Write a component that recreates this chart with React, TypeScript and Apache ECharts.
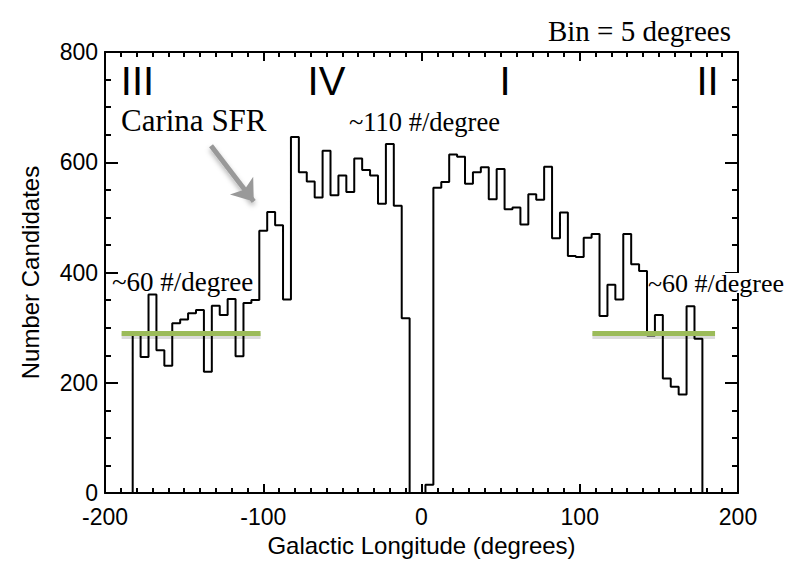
import React, { useEffect, useRef } from 'react';
import * as echarts from 'echarts';

// ---- data ----
const binWidth = 5;
const longitudes = [
  -180, -175, -170, -165, -160, -155, -150, -145, -140, -135, -130, -125,
  -120, -115, -110, -105, -100, -95, -90, -85, -80, -75, -70, -65,
  -60, -55, -50, -45, -40, -35, -30, -25, -20, -15, -10, -5,
  0, 5, 10, 15, 20, 25, 30, 35, 40, 45, 50, 55,
  60, 65, 70, 75, 80, 85, 90, 95, 100, 105, 110, 115,
  120, 125, 130, 135, 140, 145, 150, 155, 160, 165, 170, 175,
];
const counts = [
  287, 247, 360, 259, 231, 308, 315, 326, 332, 220, 340, 323,
  352, 248, 345, 350, 476, 510, 486, 351, 646, 582, 565, 536,
  621, 540, 576, 546, 607, 586, 576, 525, 633, 521, 317, 0,
  0, 15, 554, 564, 614, 610, 561, 582, 591, 533, 588, 515,
  518, 487, 542, 532, 592, 462, 509, 430, 428, 463, 470, 321,
  378, 351, 470, 415, 403, 286, 323, 208, 193, 179, 339, 280,
];
const xTicks = { min: -200, max: 200, interval: 100 };
const yTicks = { min: 0, max: 800, interval: 200 };

// ~60 #/degree plateau guides (x range in degrees, level in counts)
const plateauLevel = 290;
const plateauShadowLevel = 285;
const plateauLeft = [-189.5, -101.7];
const plateauRight = [108, 185.5];

// Carina arrow (data coordinates)
const arrowTail = [-133, 630];
const arrowEnd = [-106, 529];

const quadrants = ['III', 'IV', 'I', 'II'];
const titleText = 'Bin = 5 degrees';
const xName = 'Galactic Longitude (degrees)';
const yName = 'Number Candidates';

const SERIF = "'Liberation Serif', 'Times New Roman', Times, serif";
const SANS = "'Liberation Sans', Arial, Helvetica, sans-serif";

function buildHistogram(): number[][] {
  const pts: number[][] = [];
  longitudes.forEach((c, i) => {
    const l = c - binWidth / 2;
    const r = c + binWidth / 2;
    if (i === 0) pts.push([l, 0]);
    pts.push([l, counts[i]], [r, counts[i]]);
  });
  const last = longitudes[longitudes.length - 1] + binWidth / 2;
  pts.push([last, 0]);
  return pts;
}

function axisCommon(isX: boolean, showLabel: boolean, position: string) {
  const t = isX ? xTicks : yTicks;
  return {
    type: 'value',
    position,
    min: t.min,
    max: t.max,
    interval: t.interval,
    axisLine: { show: true, onZero: false, lineStyle: { color: '#000', width: 2 } },
    axisTick: { show: true, inside: true, length: isX ? 9 : 13, lineStyle: { color: '#000', width: 2 } },
    minorTick: { show: true, splitNumber: isX ? 10 : 4, length: isX ? 5 : 6, lineStyle: { color: '#000', width: 2 } },
    splitLine: { show: false },
    minorSplitLine: { show: false },
    axisLabel: {
      show: showLabel,
      color: '#000',
      fontSize: 23,
      fontFamily: SANS,
      margin: isX ? 12 : 7,
    },
  };
}

const textStyle = (extra: any) => ({ fill: '#000', ...extra });

const greenStyle = { color: '#9bbb59', width: 5, type: 'solid', opacity: 1 };
const greenShadowStyle = { color: 'rgba(0,0,0,0.14)', width: 6, type: 'solid', opacity: 1 };
const arrowStyle = {
  color: '#999999',
  width: 5,
  type: 'solid',
  opacity: 1,
  shadowColor: 'rgba(0,0,0,0.3)',
  shadowBlur: 5,
  shadowOffsetY: 3,
};

export default function App() {
  const ref = useRef<HTMLDivElement>(null);
  useEffect(() => {
    if (!ref.current) return;
    const chart = echarts.init(ref.current, undefined, { renderer: 'svg' });
    const romanX = [137.5, 326.5, 505, 707.5];
    const seg = (range: number[], level: number, style: any) => [
      { coord: [range[0], level], lineStyle: style, symbol: 'none' },
      { coord: [range[1], level], symbol: 'none' },
    ];
    const option: any = {
      animation: false,
      backgroundColor: '#fff',
      grid: { left: 105, right: 63, top: 52, bottom: 62, containLabel: false },
      xAxis: [
        {
          ...axisCommon(true, true, 'bottom'),
          name: xName,
          nameLocation: 'middle',
          nameGap: 39,
          nameTextStyle: { color: '#000', fontSize: 24, fontFamily: SANS },
        },
        { ...axisCommon(true, false, 'top') },
      ],
      yAxis: [
        {
          ...axisCommon(false, true, 'left'),
          name: yName,
          nameLocation: 'middle',
          nameGap: 63,
          nameTextStyle: { color: '#000', fontSize: 24, fontFamily: SANS },
        },
        { ...axisCommon(false, false, 'right') },
      ],
      series: [
        {
          type: 'line',
          data: buildHistogram(),
          symbol: 'none',
          silent: true,
          lineStyle: { color: '#000', width: 2 },
          z: 2,
          markLine: {
            silent: true,
            animation: false,
            symbol: ['none', 'none'],
            label: { show: false },
            emphasis: { disabled: true },
            lineStyle: greenStyle,
            data: [
              seg(plateauLeft, plateauShadowLevel, greenShadowStyle),
              seg(plateauRight, plateauShadowLevel, greenShadowStyle),
              seg(plateauLeft, plateauLevel, greenStyle),
              seg(plateauRight, plateauLevel, greenStyle),
              [
                { coord: arrowTail, lineStyle: arrowStyle, itemStyle: { color: '#999999' }, symbol: 'none' },
                { coord: arrowEnd, symbol: 'arrow', symbolSize: [22, 20], itemStyle: { color: '#999999' } },
              ],
            ],
          },
        },
      ],
      graphic: [
        {
          type: 'text', x: 731, y: 30.5, z: 100,
          style: textStyle({ text: titleText, fontSize: 29, fontFamily: SERIF, textAlign: 'right', align: 'right', textVerticalAlign: 'middle', verticalAlign: 'middle' }),
        },
        ...quadrants.map((q, i) => ({
          type: 'text', x: romanX[i], y: 81, z: 100,
          style: textStyle({ text: q, fontSize: 40, fontFamily: SANS, textAlign: 'center', align: 'center', textVerticalAlign: 'middle', verticalAlign: 'middle' }),
        })),
        {
          type: 'text', x: 121, y: 120.5, z: 100,
          style: textStyle({ text: 'Carina SFR', fontSize: 31, fontFamily: SERIF, textAlign: 'left', align: 'left', textVerticalAlign: 'middle', verticalAlign: 'middle' }),
        },
        {
          type: 'text', x: 349, y: 121.5, z: 100,
          style: textStyle({ text: '~110 #/degree', fontSize: 26.5, fontFamily: SERIF, textAlign: 'left', align: 'left', textVerticalAlign: 'middle', verticalAlign: 'middle' }),
        },
        {
          type: 'text', x: 112, y: 281.5, z: 100,
          style: textStyle({ text: '~60 #/degree', fontSize: 27, fontFamily: SERIF, textAlign: 'left', align: 'left', textVerticalAlign: 'middle', verticalAlign: 'middle' }),
        },
        {
          type: 'text', x: 648, y: 283, z: 100,
          style: textStyle({ text: '~60 #/degree', fontSize: 26, fontFamily: SERIF, textAlign: 'left', align: 'left', textVerticalAlign: 'middle', verticalAlign: 'middle', backgroundColor: '#fff', lineHeight: 20 }),
        },
      ],
    };
    chart.setOption(option);
    return () => chart.dispose();
  }, []);
  return (
    <div
      ref={ref}
      style={{ position: 'fixed', left: 0, top: 0, width: 801, height: 562, background: '#fff' }}
    />
  );
}
